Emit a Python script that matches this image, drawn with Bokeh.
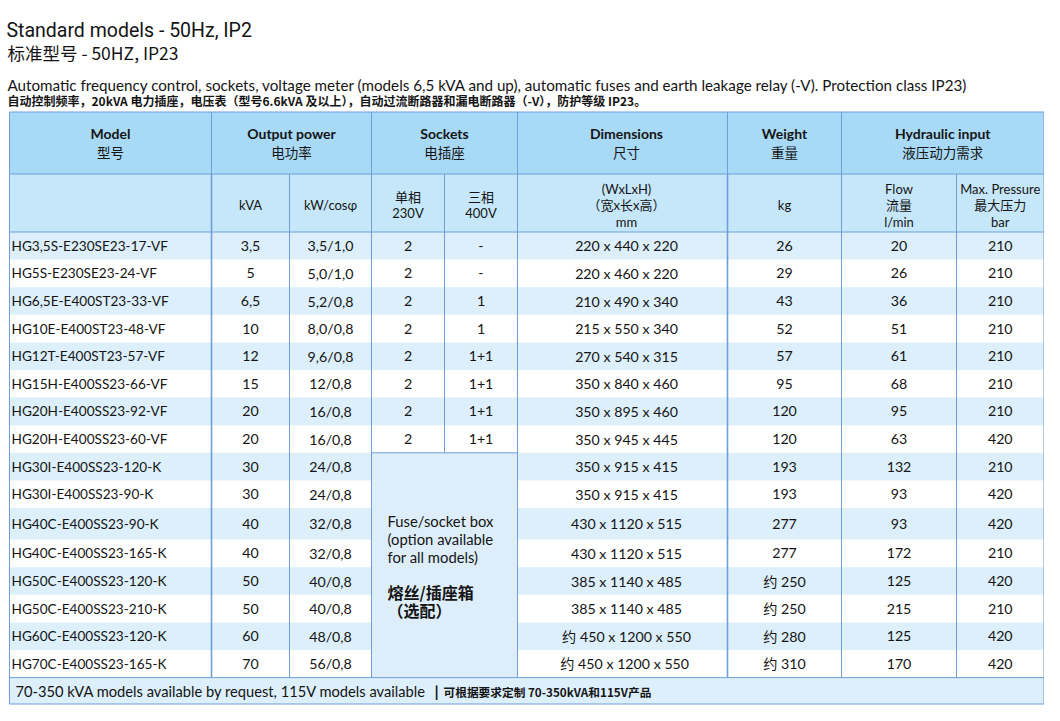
from bokeh.plotting import figure
from bokeh.models import Range1d
from bokeh.core.properties import value
from bokeh.embed import file_html
from bokeh.resources import INLINE
import numpy as np

# ---------------- data ----------------
models = ["HG3,5S-E230SE23-17-VF", "HG5S-E230SE23-24-VF", "HG6,5E-E400ST23-33-VF",
          "HG10E-E400ST23-48-VF", "HG12T-E400ST23-57-VF", "HG15H-E400SS23-66-VF",
          "HG20H-E400SS23-92-VF", "HG20H-E400SS23-60-VF", "HG30I-E400SS23-120-K",
          "HG30I-E400SS23-90-K", "HG40C-E400SS23-90-K", "HG40C-E400SS23-165-K",
          "HG50C-E400SS23-120-K", "HG50C-E400SS23-210-K", "HG60C-E400SS23-120-K",
          "HG70C-E400SS23-165-K"]
kva = ["3,5", "5", "6,5", "10", "12", "15", "20", "20", "30", "30", "40", "40", "50", "50", "60", "70"]
kw_cos = ["3,5/1,0", "5,0/1,0", "5,2/0,8", "8,0/0,8", "9,6/0,8", "12/0,8", "16/0,8", "16/0,8",
          "24/0,8", "24/0,8", "32/0,8", "32/0,8", "40/0,8", "40/0,8", "48/0,8", "56/0,8"]
sockets_1ph = ["2", "2", "2", "2", "2", "2", "2", "2"]
sockets_3ph = ["-", "-", "1", "1", "1+1", "1+1", "1+1", "1+1"]
dimensions = ["220 x 440 x 220", "220 x 460 x 220", "210 x 490 x 340", "215 x 550 x 340",
              "270 x 540 x 315", "350 x 840 x 460", "350 x 895 x 460", "350 x 945 x 445",
              "350 x 915 x 415", "350 x 915 x 415", "430 x 1120 x 515", "430 x 1120 x 515",
              "385 x 1140 x 485", "385 x 1140 x 485", "约 450 x 1200 x 550", "约  450 x 1200 x 550"]
weight = ["26", "29", "43", "52", "57", "95", "120", "120", "193", "193", "277", "277",
          "约 250", "约 250", "约 280", "约 310"]
flow = ["20", "26", "36", "51", "61", "68", "95", "63", "132", "93", "93", "172", "125", "215", "125", "170"]
pressure = ["210", "210", "210", "210", "210", "210", "210", "420", "210", "420", "420", "210",
            "420", "210", "420", "420"]

title_en = "Standard models - 50Hz, IP2"
title_zh = "标准型号  -  50HZ, IP23"
desc_en = ("Automatic frequency control, sockets, voltage meter (models 6,5 kVA and up), "
           "automatic fuses and earth leakage relay (-V). Protection class IP23)")
desc_zh = "自动控制频率，20kVA 电力插座，电压表（型号6.6kVA 及以上），自动过流断路器和漏电断路器（-V），防护等级 IP23。"
group_en = ["Model", "Output power", "Sockets", "Dimensions", "Weight", "Hydraulic input"]
group_zh = ["型号", "电功率", "电插座", "尺寸", "重量", "液压动力需求"]
sub_headers = [["kVA"], ["kW/cosφ"], ["单相", "230V"], ["三相", "400V"],
               ["(WxLxH)", "（宽x长x高）", "mm"], ["kg"], ["Flow", "流量", "l/min"],
               ["Max. Pressure", "最大压力", "bar"]]
fuse_note_en = ["Fuse/socket box", "(option available", "for all models)"]
fuse_note_zh = ["熔丝/插座箱", "（选配）"]
footer_en = "70-350 kVA models available by request, 115V models available"
footer_sep = "|"
footer_zh = "可根据要求定制 70-350kVA和115V产品"

# ---------------- layout ----------------
W, H = 1044, 705
O = 1  # data coordinate at the figure's top-left corner
LAT = value("Lato, 'Noto Sans CJK SC', sans-serif")
CJK = value("'Noto Sans CJK SC', sans-serif")
TXT = "#141414"
LINE = "#6F9FDA"
HDR1 = "#A8D9F6"
HDR2 = "#C6E7FA"
STRIPE = "#DCEFFB"

p = figure(width=W, height=H, x_range=Range1d(O, O + W), y_range=Range1d(O + H, O),
           output_backend="svg", toolbar_location=None, min_border=0,
           x_axis_location=None, y_axis_location=None)
p.grid.visible = False
p.outline_line_color = None

XL, XR = 10, 1044.5
cols = [XL, 212, 290, 372, 445, 518, 728, 842, 957, XR]
group_edges = [(XL, 212), (212, 372), (372, 518), (518, 728), (728, 842), (842, XR)]
Y_TOP, Y_H2, Y_DATA = 112.5, 174.5, 232.5
n = len(models)
heights = np.full(n, 27.6)
heights[10] = 31.6
edges = Y_DATA + np.concatenate([[0], np.cumsum(heights)])
Y_FOOT = edges[-1]
Y_END = 704.5
mids = (edges[:-1] + edges[1:]) / 2

# backgrounds
p.quad(left=XL, right=XR, top=Y_TOP, bottom=Y_H2, fill_color=HDR1, line_color=None)
p.quad(left=XL, right=XR, top=Y_H2, bottom=Y_DATA, fill_color=HDR2, line_color=None)
idx = np.arange(n)
blue = idx % 2 == 0
p.quad(left=XL, right=XR, top=edges[:-1][blue], bottom=edges[1:][blue],
       fill_color=STRIPE, line_color=None)
n_sock = len(sockets_1ph)
p.quad(left=cols[3], right=cols[5], top=edges[n_sock], bottom=Y_FOOT,
       fill_color="#DDEEFA", line_color=None)
p.quad(left=XL, right=XR, top=Y_FOOT, bottom=Y_END, fill_color=STRIPE, line_color=None)

# grid lines
hy = [Y_TOP, Y_H2, Y_DATA, Y_FOOT, Y_END]
p.segment(x0=[XL] * 5, x1=[XR] * 5, y0=hy, y1=hy, line_color=LINE, line_width=1)
p.segment(x0=[cols[3]], x1=[cols[5]], y0=[edges[n_sock]], y1=[edges[n_sock]],
          line_color=LINE, line_width=1)
vx, vy0, vy1, vw = [], [], [], []
for x in [XL, XR]:
    vx.append(x); vy0.append(Y_TOP); vy1.append(Y_END); vw.append(1)
for x in [212, 372, 518, 728, 842]:
    vx.append(x); vy0.append(Y_TOP); vy1.append(Y_H2); vw.append(1)
for x in [212, 290, 372, 518, 728, 842, 957]:
    vx.append(x); vy0.append(Y_H2); vy1.append(Y_FOOT); vw.append(1.6 if x in (212, 728) else 1)
vx.append(445); vy0.append(Y_H2); vy1.append(edges[n_sock]); vw.append(1)
p.segment(x0=vx, x1=vx, y0=vy0, y1=vy1, line_color=LINE, line_width=vw)

# titles
p.text(x=[7], y=[31], text=[title_en], text_font=value("Roboto"),
       text_font_size="19.5px", text_color=TXT, text_baseline="middle")
p.text(x=[8], y=[53], text=[title_zh], text_font=CJK, text_font_size="17.5px",
       text_color=TXT, text_baseline="middle")
p.text(x=[8], y=[85], text=[desc_en], text_font=LAT, text_font_size="15.2px",
       text_color=TXT, text_baseline="middle")
p.text(x=[8], y=[101], text=[desc_zh], text_font=CJK, text_font_size="12px",
       text_color=TXT, text_baseline="middle", text_font_style="bold")

# group headers
gc = [(a + b) / 2 for a, b in group_edges]
gc[3] += 4
p.text(x=gc, y=[134] * 6, text=group_en, text_font=LAT, text_font_size="14px",
       text_font_style="bold", text_color=TXT, text_align="center", text_baseline="middle")
p.text(x=gc, y=[152] * 6, text=group_zh, text_font=CJK, text_font_size="13.5px",
       text_color=TXT, text_align="center", text_baseline="middle")

# sub headers
sx, sy, st = [], [], []
for i, lines in enumerate(sub_headers):
    c = (cols[i + 1] + cols[i + 2]) / 2
    if i == 4:
        c += 4
    k = len(lines)
    for j, t in enumerate(lines):
        sx.append(c); sy.append(205.5 + (j - (k - 1) / 2) * 16.5); st.append(t)
p.text(x=sx, y=sy, text=st, text_font=LAT, text_font_size="13px", text_color=TXT,
       text_align="center", text_baseline="middle")

# data cells
p.text(x=[12] * n, y=mids, text=models, text_font=LAT, text_font_size="13.6px",
       text_color=TXT, text_baseline="middle")
centers = [(cols[i] + cols[i + 1]) / 2 for i in range(len(cols) - 1)]
centers[5] += 4
for ci, col in [(1, kva), (2, kw_cos), (3, sockets_1ph), (4, sockets_3ph), (5, dimensions),
                (6, weight), (7, flow), (8, pressure)]:
    m = len(col)
    p.text(x=[centers[ci]] * m, y=mids[:m], text=col, text_font=LAT, text_font_size="14.2px",
           text_color=TXT, text_align="center", text_baseline="middle")

# fuse box note
p.text(x=[388] * 3, y=[521, 539, 557], text=fuse_note_en, text_font=LAT,
       text_font_size="14.8px", text_color=TXT, text_baseline="middle")
p.text(x=[388, 388], y=[592, 610], text=fuse_note_zh, text_font=CJK, text_font_size="16px",
       text_font_style="bold", text_color=TXT, text_baseline="middle")

# footer
fm = (Y_FOOT + Y_END) / 2
p.text(x=[16], y=[fm], text=[footer_en], text_font=LAT, text_font_size="14.7px",
       text_color=TXT, text_baseline="middle")
p.text(x=[437], y=[fm], text=[footer_sep], text_font=LAT, text_font_size="16px",
       text_font_style="bold", text_color=TXT, text_align="center", text_baseline="middle")
p.text(x=[444], y=[fm + 1], text=[footer_zh], text_font=CJK, text_font_size="11.7px",
       text_font_style="bold", text_color=TXT, text_baseline="middle")

open("out.html", "w").write(file_html(p, INLINE))
